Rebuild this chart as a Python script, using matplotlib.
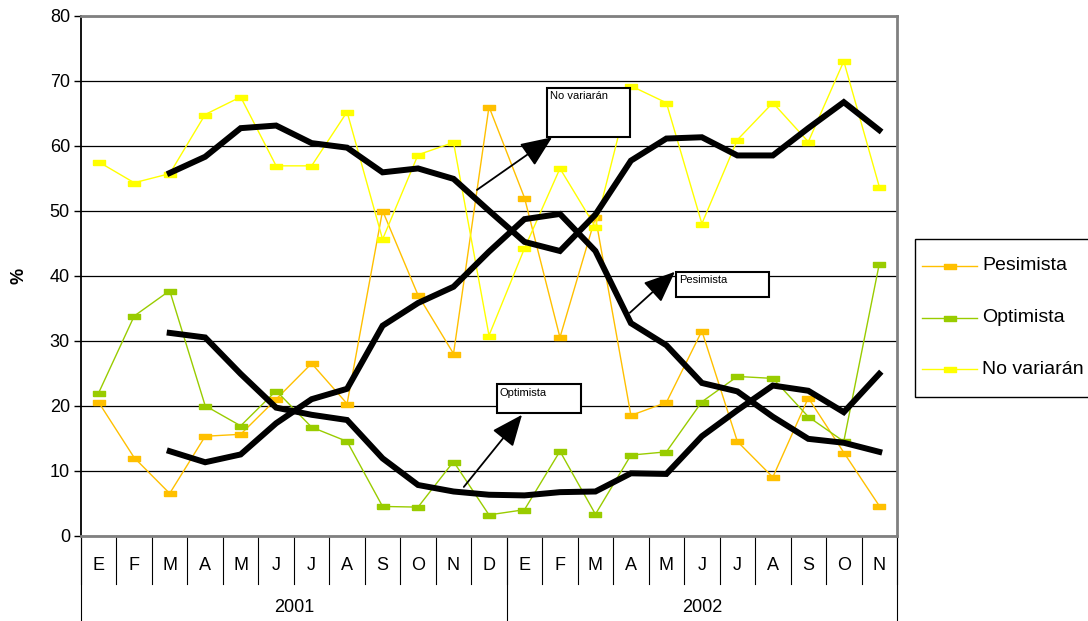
import matplotlib.pyplot as plt
from matplotlib.patches import Rectangle
from matplotlib.lines import Line2D

plt.rcParams['font.family'] = ['Liberation Sans', 'DejaVu Sans']

months = ['E', 'F', 'M', 'A', 'M', 'J', 'J', 'A', 'S', 'O', 'N', 'D',
          'E', 'F', 'M', 'A', 'M', 'J', 'J', 'A', 'S', 'O', 'N']
years = ['2001', '2002']
year_sizes = [12, 11]

pesimista = [20.5, 12.0, 6.5, 15.3, 15.6, 21.0, 26.5, 20.3, 50.0, 37.0, 28.0, 66.0,
             52.0, 30.5, 49.0, 18.5, 20.5, 31.5, 14.5, 9.0, 21.2, 12.8, 4.6]
optimista = [22.0, 33.8, 37.7, 20.0, 16.9, 22.3, 16.7, 14.5, 4.5, 4.4, 11.4, 3.2,
             4.0, 13.0, 3.3, 12.4, 12.9, 20.6, 24.5, 24.2, 18.3, 14.5, 41.8]
no_variaran = [57.5, 54.3, 55.7, 64.8, 67.5, 56.9, 56.9, 65.2, 45.6, 58.6, 60.5, 30.8,
               44.2, 56.5, 47.5, 69.2, 66.6, 48.0, 60.9, 66.6, 60.6, 73.0, 53.7]

# tendencias (promedio movil de 3 meses), desde marzo 2001
tend_pesimista = [13.0, 11.3, 12.5, 17.3, 21.0, 22.6, 32.3, 35.8, 38.3, 43.7, 48.7,
                  49.5, 43.8, 32.7, 29.3, 23.5, 22.2, 18.3, 14.9, 14.3, 12.9]
tend_optimista = [31.2, 30.5, 24.9, 19.7, 18.6, 17.8, 11.9, 7.8, 6.8, 6.3, 6.2,
                  6.7, 6.8, 9.6, 9.5, 15.3, 19.3, 23.1, 22.3, 19.0, 24.9]
tend_no_variaran = [55.8, 58.3, 62.7, 63.1, 60.4, 59.7, 55.9, 56.5, 54.9, 50.0, 45.2,
                    43.8, 49.4, 57.7, 61.1, 61.3, 58.5, 58.5, 62.7, 66.7, 62.4]

series_names = ['Pesimista', 'Optimista', 'No variarán']
series_colors = ['#FFC000', '#99CC00', '#FFFF00']

n = len(months)
x = list(range(n))
x_tend = list(range(2, n))

W, H = 1088, 621
rect = [(-1, -0.45), (1, -0.45), (1, 0.45), (-1, 0.45), (-1, -0.45)]

fig = plt.figure(figsize=(W / 100, H / 100), dpi=100)
ax = fig.add_axes([81 / W, 1 - 535.7 / H, (897 - 81) / W, 520 / H])

for name, vals, col in zip(series_names, [pesimista, optimista, no_variaran], series_colors):
    ax.plot(x, vals, color=col, lw=1.0, marker=rect, markersize=8,
            markerfacecolor=col, markeredgecolor=col, zorder=3)

for vals in (tend_pesimista, tend_optimista, tend_no_variaran):
    ax.plot(x_tend, vals, color='black', lw=4.3, solid_joinstyle='miter', zorder=4)

ax.set_xlim(-0.5, n - 0.5)
ax.set_ylim(0, 80)
ax.set_yticks(range(0, 81, 10))
ax.tick_params(axis='y', labelsize=13, length=5, width=1, pad=3)
ax.yaxis.grid(True, color='black', lw=0.9)
ax.set_axisbelow(True)
ax.set_xticks([])
ax.set_ylabel('%', fontsize=13, fontweight='bold', labelpad=16)

ax.spines['left'].set_linewidth(1.3)
for side in ('top', 'bottom', 'right'):
    ax.spines[side].set_color('#808080')
    ax.spines[side].set_linewidth(2)

# eje de categorias en dos niveles: meses y años
tr = ax.get_xaxis_transform()
for i in range(n + 1):
    ax.plot([i - 0.5, i - 0.5], [0, -0.092], color='black', lw=0.8,
            transform=tr, clip_on=False)
for i, m in enumerate(months):
    ax.text(i, -0.058, m, transform=tr, ha='center', va='center', fontsize=13)
start = 0
bounds = [start]
for yr, size in zip(years, year_sizes):
    ax.text(start + size / 2 - 0.5, -0.138, yr, transform=tr, ha='center',
            va='center', fontsize=13)
    start += size
    bounds.append(start)
for b in bounds:
    ax.plot([b - 0.5, b - 0.5], [0, -0.2], color='black', lw=0.8,
            transform=tr, clip_on=False)

# cuadros de texto con flechas
boxes = [('No variarán', (12.63, 61.3), 2.34, 7.6, (10.66, 53.2), (12.78, 61.3)),
         ('Pesimista', (16.27, 36.7), 2.62, 3.9, (14.97, 34.3), (16.24, 40.6)),
         ('Optimista', (11.22, 18.9), 2.37, 4.4, (10.29, 7.5), (11.93, 18.6))]
for txt, (bx, by), bw, bh, tail, tip in boxes:
    ax.add_patch(Rectangle((bx, by), bw, bh, facecolor='white', edgecolor='black',
                           lw=1.5, zorder=6))
    ax.text(bx + 0.08, by + bh - 0.5, txt, fontsize=8, ha='left', va='top', zorder=7)
    ax.annotate('', xy=tip, xytext=tail, zorder=5,
                arrowprops=dict(arrowstyle='-|>,head_length=1.3,head_width=0.55',
                                color='black', lw=1.3, mutation_scale=15,
                                shrinkA=0, shrinkB=0))

# leyenda dibujada a mano en coordenadas de figura (px)
def fx(px):
    return px / W

def fy(py):
    return 1 - py / H

fig.add_artist(Rectangle((fx(915), fy(397)), fx(1100) - fx(915), fy(239) - fy(397),
                         transform=fig.transFigure, facecolor='white',
                         edgecolor='black', lw=1.0))
for k, (name, col) in enumerate(zip(series_names, series_colors)):
    yy = 266 + 51.5 * k
    fig.add_artist(Line2D([fx(922), fx(977)], [fy(yy), fy(yy)], transform=fig.transFigure,
                          color=col, lw=1.0))
    fig.add_artist(Line2D([fx(949.5)], [fy(yy)], transform=fig.transFigure,
                          marker=rect, markersize=8, color=col, lw=0))
    fig.text(fx(982), fy(yy), name, fontsize=14, ha='left', va='center')

fig.savefig('out.png', dpi=100)
